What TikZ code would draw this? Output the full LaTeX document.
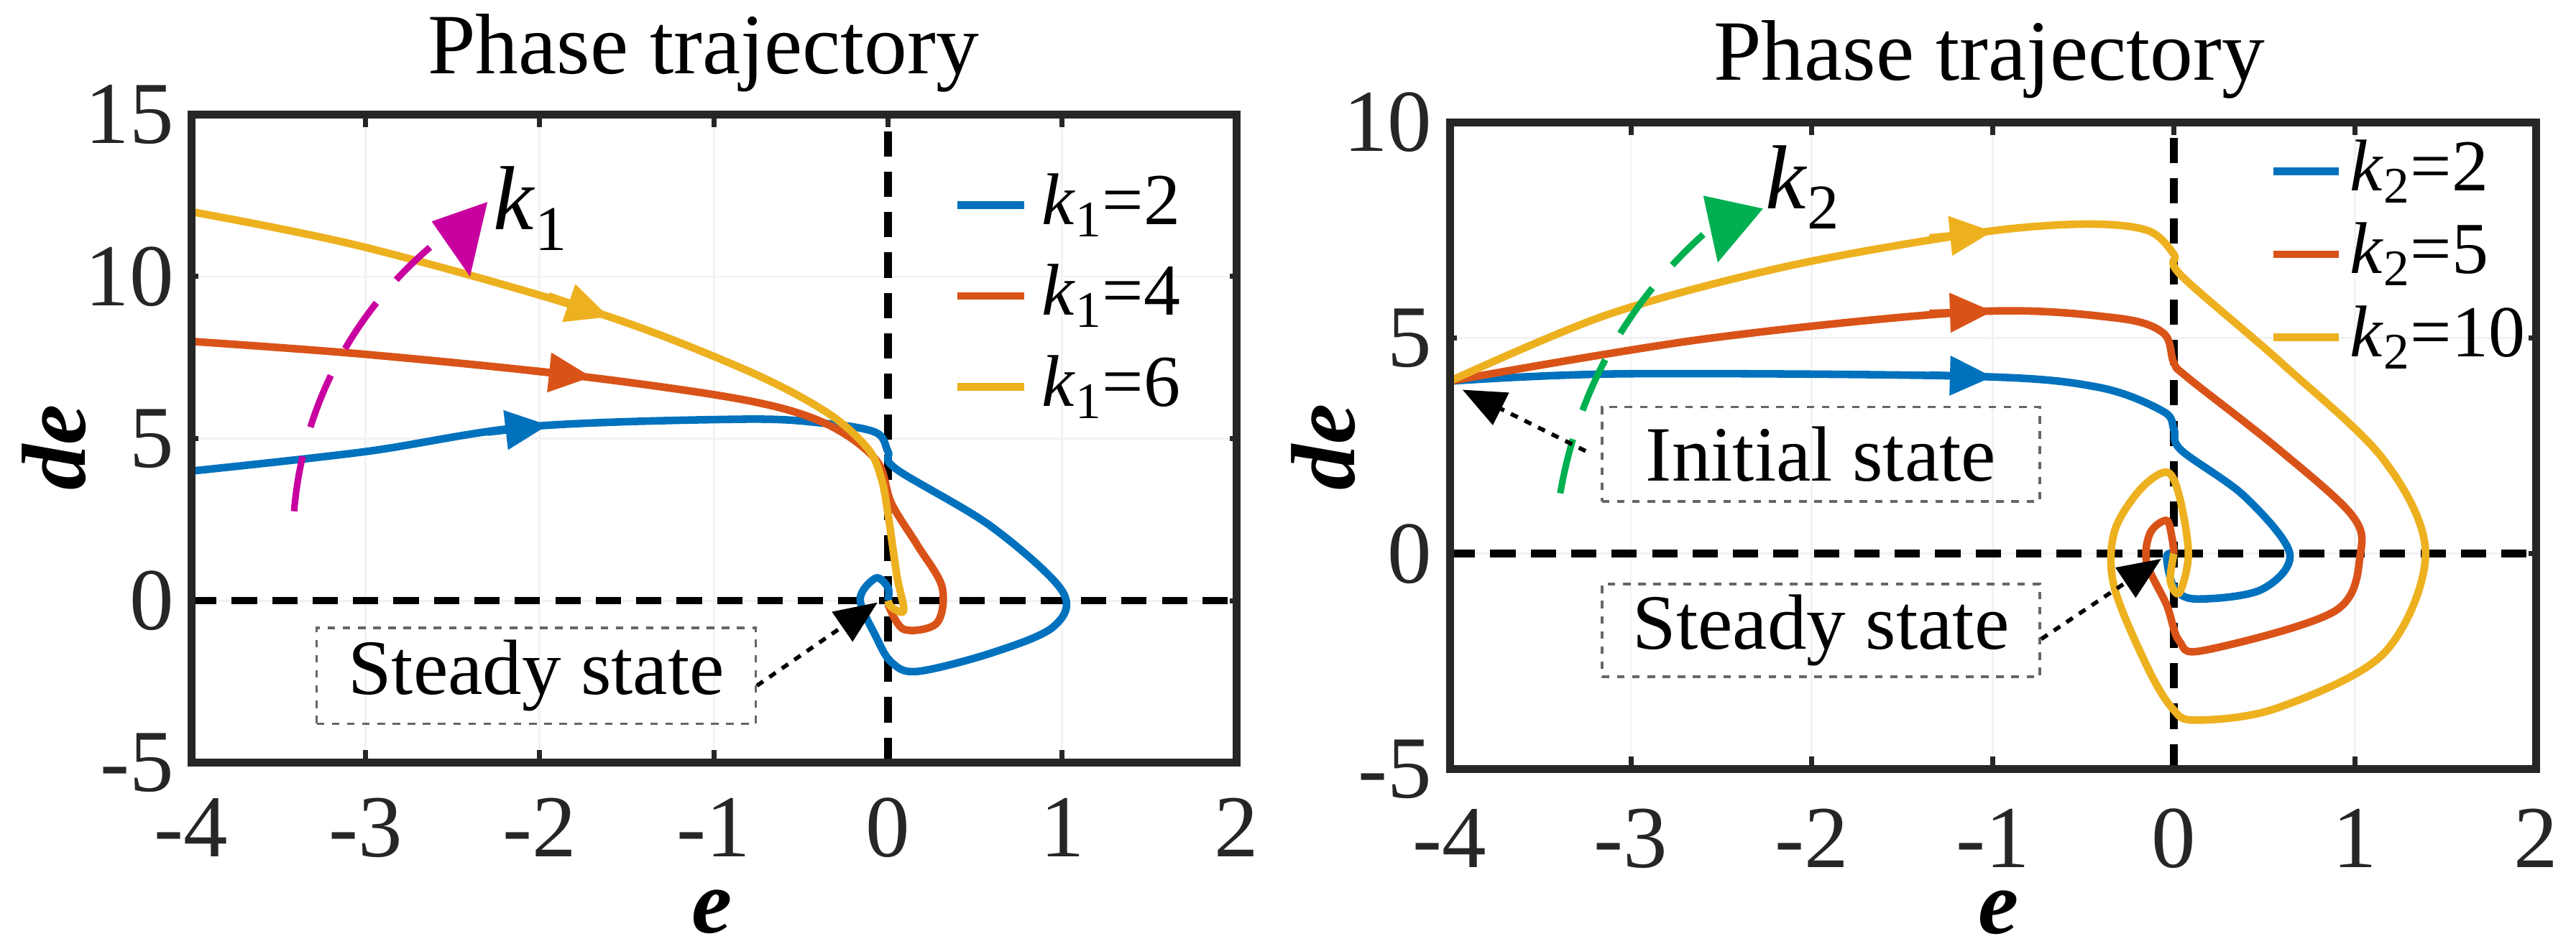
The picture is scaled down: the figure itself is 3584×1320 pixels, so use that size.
\documentclass[tikz,border=0pt]{standalone}
\usepackage{fontspec}
\setmainfont{Liberation Serif}
\newfontfamily\tnr{Liberation Serif}
\usetikzlibrary{arrows.meta}
\definecolor{cb}{RGB}{0,114,189}
\definecolor{co}{RGB}{217,83,25}
\definecolor{cy}{RGB}{237,177,32}
\definecolor{cmag}{RGB}{200,0,160}
\definecolor{cgrn}{RGB}{0,176,80}
\definecolor{axc}{RGB}{38,38,38}
\tikzset{
 curve/.style={line width=3pt,smooth,tension=0.55,line join=round},
 tri/.style={-{Triangle[length=17pt,width=15pt]},line width=3pt},
 axbox/.style={draw=axc,line width=3.2pt},
 zeroline/.style={line width=3pt,dash pattern=on 10pt off 6pt},
 gridl/.style={draw=gray!10,line width=0.8pt},
 tick/.style={font=\tnr\fontsize{35}{38}\selectfont,text=axc},
 ttl/.style={font=\tnr\fontsize{34}{38}\selectfont},
 lbl/.style={font=\tnr\fontsize{36}{40}\selectfont\bfseries\itshape},
 leg/.style={font=\tnr\fontsize{29}{32}\selectfont,anchor=west,inner sep=0},
 annbox/.style={draw=gray!80!black,dashed,line width=1pt,font=\tnr\fontsize{31}{34}\selectfont,inner sep=0},
 ann/.style={dashed,line width=1.6pt,-{Triangle[length=17pt,width=14pt]}},
 karc/.style={line width=2.6pt,dash pattern=on 22pt off 12pt},
 klab/.style={font=\tnr\fontsize{36}{40}\selectfont},
}
\begin{document}
\begin{tikzpicture}[x=0.01cm,y=0.01cm]
\useasboundingbox (0,0) rectangle (3584,1320);
% ===== left plot =====
\begin{scope}[shift={(12.348cm,4.835cm)},x=2.422cm,y=0.451cm]
 \foreach \i in {-3,-2,-1,1} \draw[gridl] (\i,-5) -- (\i,15);
 \foreach \j in {0,5,10} \draw[gridl] (-4,\j) -- (2,\j);
 \foreach \i in {-3,...,1} {\draw[axc,line width=2pt] (\i,-5) -- (\i,-4.6); \draw[axc,line width=2pt] (\i,15) -- (\i,14.6);}
 \foreach \j in {0,5,10} {\draw[axc,line width=2pt] (-4,\j) -- (-3.96,\j); \draw[axc,line width=2pt] (2,\j) -- (1.96,\j);}
 \draw[zeroline] (-4,0) -- (2,0);
 \draw[zeroline] (0,-5) -- (0,15);
 \draw[cb,curve] plot coordinates {(-4,4) (-3,4.6) (-2.06,5.37) (-0.83,5.6) (-0.36,5.47) (-0.07,5.19) (0,4.6) (0.05,4.05) (0.59,2.3) (1.0,0.3) (0.95,-0.8) (0.6,-1.6) (0.17,-2.18) (0.02,-1.9) (-0.07,-1.1) (-0.16,0.05) (-0.07,0.7) (0,0.4) (0,0)};
 \draw[co,curve] plot coordinates {(-4,8) (-3,7.6) (-1.82,6.96) (-0.83,6.2) (-0.36,5.47) (-0.07,4.35) (0.02,3.0) (0.17,1.7) (0.31,0.43) (0.28,-0.69) (0.09,-0.88) (0,-0.1)};
 \draw[cy,curve] plot coordinates {(-4,12) (-3,10.9) (-1.68,8.9) (-0.83,7.15) (-0.36,5.84) (-0.12,4.72) (-0.04,3.8) (0,2.67) (0.05,0.8) (0.09,-0.3) (0.02,-0.2) (0,0)};
 \draw[cb,tri] (-2.3,5.2) -- (-1.95,5.42);
 \draw[co,tri] (-2.05,7.1) -- (-1.7,6.9);
 \draw[cy,tri] (-1.95,9.4) -- (-1.6,8.75);
 \draw[axbox] (-4,-5) rectangle (2,15);
 % k1 arc
 \draw[cmag,karc] (-3.41,2.76) .. controls (-3.35,6.5) and (-3.0,9.2) .. (-2.63,10.9);
 \fill[cmag] (-2.62,11.7) -- (-2.3,12.3) -- (-2.4,10.0) -- cycle;
 \node[klab] (k1) at (-2.05,12.1) {\textit{k}\textsubscript{1}};
 % legend
 \foreach \y/\c/\v in {12.2/cb/2,9.4/co/4,6.6/cy/6} {
   \draw[\c,line width=3pt] (0.40,\y) -- (0.78,\y);
   \node[leg] at (0.88,\y) {\textit{k}\textsubscript{1}=\v};}
 % annotation
 \node[annbox,minimum width=2.52*2.422cm,minimum height=2.96*0.451cm] (ss1) at (-2.02,-2.32) {Steady state};
 \coordinate (ss1t) at (-0.06,-0.05);
 \draw[ann] (ss1.east) ++(0,-0.3) -- (ss1t);
 % labels
 \foreach \i in {-4,...,2} \node[tick] at (\i,-7.0) {\i};
 \foreach \j in {-5,0,5,10,15} \node[tick,anchor=east] at (-4.05,\j) {\j};
 \node[ttl] (t1) at (-1.06,16.9) {Phase trajectory};
 \node[lbl,rotate=90] (yl1) at (-4.79,4.73) {de};
 \node[lbl] (xl1) at (-1.01,-9.6) {e};
\end{scope}
% ===== right plot =====
\begin{scope}[shift={(30.228cm,5.49cm)},x=2.517cm,y=0.60cm]
 \foreach \i in {-3,-2,-1,1} \draw[gridl] (\i,-5) -- (\i,10);
 \foreach \j in {0,5} \draw[gridl] (-4,\j) -- (2,\j);
 \foreach \i in {-3,...,1} {\draw[axc,line width=2pt] (\i,-5) -- (\i,-4.7); \draw[axc,line width=2pt] (\i,10) -- (\i,9.7);}
 \foreach \j in {0,5} {\draw[axc,line width=2pt] (-4,\j) -- (-3.96,\j); \draw[axc,line width=2pt] (2,\j) -- (1.96,\j);}
 \draw[zeroline] (-4,0) -- (2,0);
 \draw[zeroline] (0,-5) -- (0,10);
 \draw[cb,curve] plot coordinates {(-4,4) (-3.04,4.17) (-1.10,4.11) (-0.42,3.86) (-0.06,3.3) (0,2.88) (0.04,2.4) (0.39,1.33) (0.64,0) (0.48,-0.84) (0.12,-1.05) (0,-0.77) (-0.04,-0.07) (0,0)};
 \draw[co,curve] plot coordinates {(-4,4) (-2.59,4.98) (-1.1,5.61) (-0.33,5.47) (-0.06,5.12) (0,4.42) (0.08,4.07) (0.57,2.45) (0.98,0.91) (1.03,0) (0.89,-1.33) (0.17,-2.24) (0.03,-2.03) (-0.04,-1.19) (-0.15,-0.21) (-0.13,0.49) (-0.04,0.77) (-0.01,0.35) (0,0)};
 \draw[cy,curve] plot coordinates {(-4,4) (-3.13,5.54) (-2.14,6.66) (-1.10,7.43) (-0.51,7.64) (-0.15,7.5) (0,6.94) (0.04,6.45) (0.6,4.4) (1.16,2.17) (1.39,0) (1.16,-2.31) (0.57,-3.58) (0.12,-3.86) (-0.01,-3.58) (-0.15,-2.6) (-0.33,-0.77) (-0.33,0.49) (-0.19,1.47) (-0.04,1.89) (0.03,1.33) (0.08,0) (0.03,-0.91) (-0.02,-0.63) (0,0)};
 \draw[cb,tri] (-1.35,4.14) -- (-1.0,4.1);
 \draw[co,tri] (-1.35,5.57) -- (-1.0,5.62);
 \draw[cy,tri] (-1.35,7.32) -- (-1.0,7.47);
 \draw[axbox] (-4,-5) rectangle (2,10);
 % k2 arc
 \draw[cgrn,karc] (-3.39,1.4) .. controls (-3.3,3.6) and (-3.05,5.7) .. (-2.6,7.4);
 \fill[cgrn] (-2.6,8.3) -- (-2.27,8.0) -- (-2.52,6.75) -- cycle;
 \node[klab] (k2) at (-2.05,8.5) {\textit{k}\textsubscript{2}};
 % legend
 \foreach \y/\c/\v in {8.86/cb/2,6.94/co/5,5.02/cy/10} {
   \draw[\c,line width=3pt] (0.55,\y) -- (0.91,\y);
   \node[leg] at (0.97,\y) {\textit{k}\textsubscript{2}=\v};}
 % annotations
 \node[annbox,minimum width=2.42*2.517cm,minimum height=2.19*0.60cm] (is) at (-1.95,2.31) {Initial state};
 \coordinate (ist) at (-3.93,3.8);
 \draw[ann] (-3.25,2.38) -- (ist);
 \node[annbox,minimum width=2.42*2.517cm,minimum height=2.15*0.60cm] (ss2) at (-1.95,-1.78) {Steady state};
 \coordinate (ss2t) at (-0.07,-0.12);
 \draw[ann] (ss2.east) ++(0,-0.2) -- (ss2t);
 % labels
 \foreach \i in {-4,...,2} \node[tick] at (\i,-6.6) {\i};
 \foreach \j in {-5,0,5,10} \node[tick,anchor=east] at (-4.05,\j) {\j};
 \node[ttl] (t2) at (-1.02,11.45) {Phase trajectory};
 \node[lbl,rotate=90] (yl2) at (-4.7,2.47) {de};
 \node[lbl] (xl2) at (-0.97,-8.33) {e};
\end{scope}
\end{tikzpicture}
\end{document}
